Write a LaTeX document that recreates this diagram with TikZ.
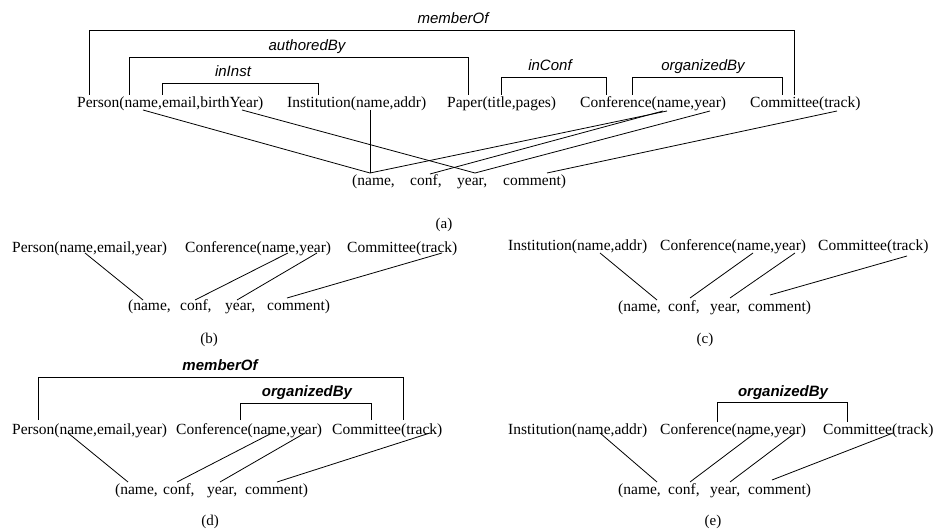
\documentclass[tikz,border=0pt]{standalone}
\usepackage{fontspec}
\setmainfont{Liberation Serif}
\setsansfont{Liberation Sans}
\begin{document}
\begin{tikzpicture}[x=1pt,y=-1pt,
  txt/.style={font=\fontsize{15.5}{18}\selectfont, anchor=base west, inner sep=0pt},
  lbl/.style={font=\fontsize{15}{18}\selectfont\sffamily\itshape, anchor=base, inner sep=0pt},
  blbl/.style={font=\fontsize{15}{18}\selectfont\sffamily\itshape\bfseries, anchor=base, inner sep=0pt},
  capt/.style={font=\fontsize{15}{18}\selectfont, anchor=center, inner sep=0pt},
  ln/.style={line width=0.8pt, black},
  br/.style={line width=0.8pt, black}]
\useasboundingbox (0,0) rectangle (933,529);

% ---------------- (a) ----------------
\node[txt] (aP) at (77,108) {Person(name,email,birthYear)};
\node[txt] (aI) at (287,108) {Institution(name,addr)};
\node[txt] (aPa) at (447,108) {Paper(title,pages)};
\node[txt] (aC) at (580,108) {Conference(name,year)};
\node[txt] (aM) at (750,108) {Committee(track)};
\node[txt] (aw1) at (352,186) {(name,};
\node[txt] (aw2) at (410,186) {conf,};
\node[txt] (aw3) at (457,186) {year,};
\node[txt] (aw4) at (503,186) {comment)};

\draw[br] (89,95) |- (794,30) -- (794,95);
\node[lbl] (amem) at (453,24) {memberOf};
\draw[br] (129,95) |- (468,57) -- (468,95);
\node[lbl] (aauth) at (307,51) {authoredBy};
\draw[br] (162,95) |- (318,83) -- (318,95);
\node[lbl] (ainst) at (233,77) {inInst};
\draw[br] (501,95) |- (606,77) -- (606,95);
\node[lbl] (aconf) at (550,71) {inConf};
\draw[br] (632,95) |- (782,77) -- (782,95);
\node[lbl] (aorg) at (703,71) {organizedBy};

\coordinate (aPn) at (143,110);
\coordinate (aPy) at (242,110);
\coordinate (aIn) at (370,110);
\coordinate (aCn1) at (667,111);
\coordinate (aCn2) at (663,111);
\coordinate (aCy) at (710,111);
\coordinate (aMt) at (837,111);
\coordinate (aBn) at (370,173);
\coordinate (aBc) at (430,174);
\coordinate (aBy) at (475,173);
\coordinate (aBm) at (547,173);
\draw[ln] (aPn) -- (aBn);
\draw[ln] (aIn) -- (aBn);
\draw[ln] (aCn1) -- (aBn);
\draw[ln] (aCn2) -- (aBc);
\draw[ln] (aPy) -- (aBy);
\draw[ln] (aCy) -- (aBy);
\draw[ln] (aMt) -- (aBm);
\node[capt] (capa) at (444,225) {(a)};

% ---------------- (b) ----------------
\node[txt] (bP) at (12,252) {Person(name,email,year)};
\node[txt] (bC) at (185,252) {Conference(name,year)};
\node[txt] (bM) at (347,252) {Committee(track)};
\node[txt] (bw1) at (128,310) {(name,};
\node[txt] (bw2) at (180,310) {conf,};
\node[txt] (bw3) at (225,310) {year,};
\node[txt] (bw4) at (267,310) {comment)};
\coordinate (bPn) at (85,253);
\coordinate (bCn) at (288,253);
\coordinate (bCy) at (317,253);
\coordinate (bMt) at (442,253);
\coordinate (bBn) at (143,300);
\coordinate (bBc) at (195,300);
\coordinate (bBy) at (237,300);
\coordinate (bBm) at (287,298);
\draw[ln] (bPn) -- (bBn);
\draw[ln] (bCn) -- (bBc);
\draw[ln] (bCy) -- (bBy);
\draw[ln] (bMt) -- (bBm);
\node[capt] (capb) at (209,340) {(b)};

% ---------------- (c) ----------------
\node[txt] (cI) at (508,251) {Institution(name,addr)};
\node[txt] (cC) at (660,251) {Conference(name,year)};
\node[txt] (cM) at (818,251) {Committee(track)};
\node[txt] (cw1) at (618,311) {(name,};
\node[txt] (cw2) at (668,311) {conf,};
\node[txt] (cw3) at (710,311) {year,};
\node[txt] (cw4) at (748,311) {comment)};
\coordinate (cIn) at (600,253);
\coordinate (cCn) at (753,253);
\coordinate (cCy) at (795,253);
\coordinate (cMt) at (907,256);
\coordinate (cBn) at (657,300);
\coordinate (cBc) at (690,298);
\coordinate (cBy) at (730,298);
\coordinate (cBm) at (770,295);
\draw[ln] (cIn) -- (cBn);
\draw[ln] (cCn) -- (cBc);
\draw[ln] (cCy) -- (cBy);
\draw[ln] (cMt) -- (cBm);
\node[capt] (capc) at (705,340) {(c)};

% ---------------- (d) ----------------
\node[txt] (dP) at (12,434) {Person(name,email,year)};
\node[txt] (dC) at (176,434) {Conference(name,year)};
\node[txt] (dM) at (332,434) {Committee(track)};
\node[txt] (dw1) at (115,494) {(name,};
\node[txt] (dw2) at (163,494) {conf,};
\node[txt] (dw3) at (207,494) {year,};
\node[txt] (dw4) at (245,494) {comment)};
\draw[br] (38,420) |- (403,377) -- (403,420);
\node[blbl] (dmem) at (220,370) {memberOf};
\draw[br] (240,420) |- (371,403) -- (371,420);
\node[blbl] (dorg) at (307,396) {organizedBy};
\coordinate (dPn) at (68,433);
\coordinate (dCn) at (272,433);
\coordinate (dCy) at (305,433);
\coordinate (dMt) at (430,433);
\coordinate (dBn) at (128,482);
\coordinate (dBc) at (177,482);
\coordinate (dBy) at (220,482);
\coordinate (dBm) at (277,482);
\draw[ln] (dPn) -- (dBn);
\draw[ln] (dCn) -- (dBc);
\draw[ln] (dCy) -- (dBy);
\draw[ln] (dMt) -- (dBm);
\node[capt] (capd) at (210,522) {(d)};

% ---------------- (e) ----------------
\node[txt] (eI) at (508,434) {Institution(name,addr)};
\node[txt] (eC) at (660,434) {Conference(name,year)};
\node[txt] (eM) at (823,434) {Committee(track)};
\node[txt] (ew1) at (618,494) {(name,};
\node[txt] (ew2) at (668,494) {conf,};
\node[txt] (ew3) at (710,494) {year,};
\node[txt] (ew4) at (748,494) {comment)};
\draw[br] (717,422) |- (847,402) -- (847,422);
\node[blbl] (eorg) at (783,396) {organizedBy};
\coordinate (eIn) at (600,433);
\coordinate (eCn) at (755,433);
\coordinate (eCy) at (795,433);
\coordinate (eMt) at (893,433);
\coordinate (eBn) at (657,482);
\coordinate (eBc) at (690,482);
\coordinate (eBy) at (730,482);
\coordinate (eBm) at (772,480);
\draw[ln] (eIn) -- (eBn);
\draw[ln] (eCn) -- (eBc);
\draw[ln] (eCy) -- (eBy);
\draw[ln] (eMt) -- (eBm);
\node[capt] (cape) at (713,522) {(e)};
\end{tikzpicture}
\end{document}
